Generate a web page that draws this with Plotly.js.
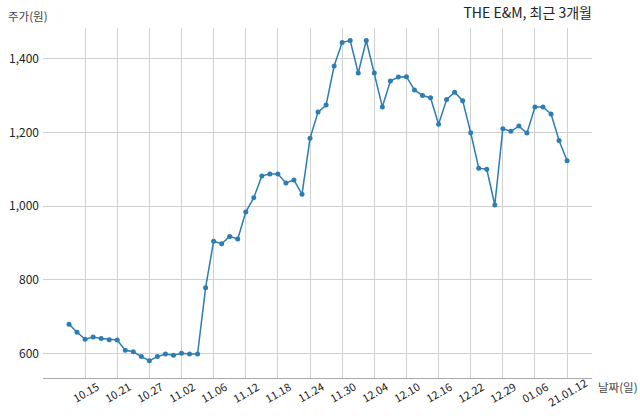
<!DOCTYPE html>
<html>
<head>
<meta charset="utf-8">
<script src="https://cdn.plot.ly/plotly-3.0.1.min.js"></script>
<style>html,body{margin:0;padding:0;background:#fff;}#chart{width:640px;height:419px;}</style>
</head>
<body>
<div id="chart"></div>
<script>
const dates = [
  "2020-10-13","2020-10-14","2020-10-15","2020-10-16","2020-10-19","2020-10-20","2020-10-21","2020-10-22","2020-10-23","2020-10-26",
  "2020-10-27","2020-10-28","2020-10-29","2020-10-30","2020-11-02","2020-11-03","2020-11-04","2020-11-05","2020-11-06","2020-11-09",
  "2020-11-10","2020-11-11","2020-11-12","2020-11-13","2020-11-16","2020-11-17","2020-11-18","2020-11-19","2020-11-20","2020-11-23",
  "2020-11-24","2020-11-25","2020-11-26","2020-11-27","2020-11-30","2020-12-01","2020-12-02","2020-12-03","2020-12-04","2020-12-07",
  "2020-12-08","2020-12-09","2020-12-10","2020-12-11","2020-12-14","2020-12-15","2020-12-16","2020-12-17","2020-12-18","2020-12-21",
  "2020-12-22","2020-12-23","2020-12-24","2020-12-28","2020-12-29","2020-12-30","2021-01-04","2021-01-05","2021-01-06","2021-01-07",
  "2021-01-08","2021-01-11","2021-01-12"
];
const prices = [
  680, 658, 639, 645, 641, 638, 637, 609, 605, 592,
  581, 592, 599, 596, 601, 599, 599, 779, 905, 898,
  918, 911, 984, 1023, 1082, 1087, 1087, 1063, 1071, 1032,
  1184, 1255, 1274, 1380, 1444, 1449, 1361, 1449, 1361, 1269,
  1339, 1350, 1351, 1315, 1300, 1294, 1222, 1289, 1309, 1286,
  1199, 1103, 1100, 1003, 1210, 1203, 1217, 1198, 1269, 1269,
  1250, 1178, 1123
];
const tickDates = ["2020-10-15","2020-10-21","2020-10-27","2020-11-02","2020-11-06","2020-11-12","2020-11-18","2020-11-24","2020-11-30","2020-12-04","2020-12-10","2020-12-16","2020-12-22","2020-12-29","2021-01-06","2021-01-12"];
const tickLabels = ["10.15","10.21","10.27","11.02","11.06","11.12","11.18","11.24","11.30","12.04","12.10","12.16","12.22","12.29","01.06","21.01.12"];
const yTicks = [600, 800, 1000, 1200, 1400];

const FONT = "'Noto Sans CJK KR', 'Noto Sans', sans-serif";

const tickAnnots = tickDates.map((d, i) => ({
  text: tickLabels[i], xref: 'x', yref: 'paper', x: d, y: 0,
  xanchor: 'center', yanchor: 'middle', yshift: -14, textangle: -30,
  showarrow: false, font: {family: FONT, size: 11, color: '#222'}
}));

Plotly.newPlot('chart', [{
  type: 'scatter',
  mode: 'lines+markers',
  x: dates,
  y: prices,
  line: {color: '#2c7db3', width: 1.5},
  marker: {color: '#2c7db3', size: 5},
  hoverinfo: 'skip'
}], {
  width: 640, height: 419,
  margin: {l: 43, r: 48, t: 28, b: 41},
  paper_bgcolor: '#fff', plot_bgcolor: '#fff',
  showlegend: false,
  font: {family: FONT, color: '#222', size: 11},
  title: {text: 'THE E&M, 최근 3개월', x: 1, xanchor: 'right', xref: 'paper', y: 0.968, yanchor: 'middle', font: {family: FONT, size: 14, color: '#222'}},
  xaxis: {
    type: 'category',
    range: [-3.24, 65.1],
    tickmode: 'array', tickvals: tickDates, ticktext: tickLabels,
    showticklabels: false,
    showgrid: true, gridcolor: '#d0d0d0', gridwidth: 1,
    showline: true, linecolor: '#aaa', linewidth: 1,
    ticks: '', zeroline: false
  },
  yaxis: {
    range: [534, 1483],
    tickmode: 'array', tickvals: yTicks,
    tickformat: ',d',
    showgrid: true, gridcolor: '#d0d0d0', gridwidth: 1,
    showline: false, zeroline: false, ticks: '',
    ticklabelstandoff: 3,
    tickfont: {family: FONT, size: 12, color: '#222'}
  },
  annotations: tickAnnots.concat([
    {text: '주가(원)', xref: 'paper', yref: 'paper', x: -0.068, y: 1.035, xanchor: 'left', yanchor: 'middle', showarrow: false, font: {family: FONT, size: 11.5, color: '#444'}},
    {text: '날짜(일)', xref: 'paper', yref: 'paper', x: 1.008, y: -0.025, xanchor: 'left', yanchor: 'middle', showarrow: false, font: {family: FONT, size: 11.5, color: '#444'}}
  ])
}, {displayModeBar: false, staticPlot: true});
</script>
</body>
</html>
